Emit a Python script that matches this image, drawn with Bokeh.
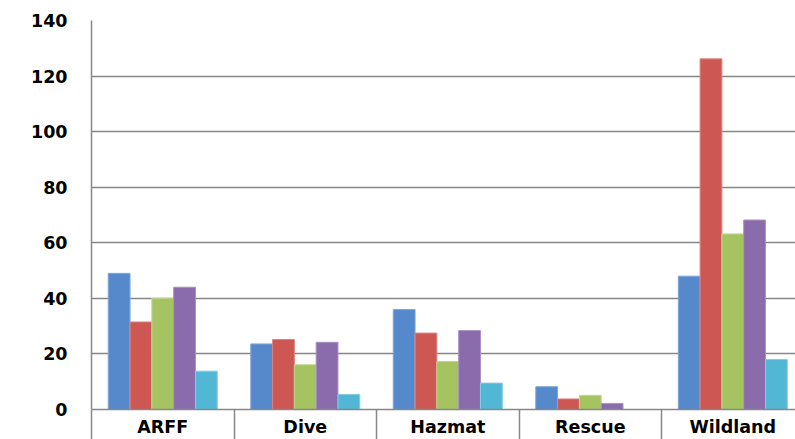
from bokeh.plotting import figure
from bokeh.models import FixedTicker, Range1d, ColumnDataSource
from bokeh.embed import file_html
from bokeh.resources import INLINE

categories = ["ARFF", "Dive", "Hazmat", "Rescue", "Wildland"]
series_1 = [49, 23.6, 36, 8.2, 48]
series_2 = [31.5, 25.2, 27.5, 3.8, 126.2]
series_3 = [40, 16.1, 17.3, 5.1, 63.2]
series_4 = [44, 24.2, 28.4, 2.2, 68.2]
series_5 = [13.8, 5.4, 9.5, 0, 18]
y_ticks = [0, 20, 40, 60, 80, 100, 120, 140]

series = [series_1, series_2, series_3, series_4, series_5]
colors = ["#5589CC", "#CD5753", "#A5C461", "#8A6CAC", "#52B7D4"]
edges = ["#7FA6DA", "#DC8583", "#C0D68F", "#A992C2", "#86CCE1"]

bar_w = 0.153
centers = [i + 0.5 for i in range(len(categories))]

p = figure(width=795, height=439, output_backend="svg", toolbar_location=None,
           x_range=Range1d(0, 4.94), y_range=Range1d(0, 140),
           min_border_left=91, min_border_right=0, min_border_top=20, min_border_bottom=30)
p.outline_line_color = None
p.background_fill_color = "white"
p.border_fill_color = "white"

for k, vals in enumerate(series):
    off = (k - 2) * bar_w
    src = ColumnDataSource(dict(x=[c + off for c in centers], top=vals))
    p.vbar(x="x", top="top", bottom=0, width=bar_w, source=src,
           fill_color=colors[k], line_color=edges[k], line_width=1)

FONT = "DejaVu Sans"
FSIZE = "17.5px"

# x axis
p.xaxis.ticker = FixedTicker(ticks=centers, minor_ticks=list(range(len(categories) + 1)))
p.xaxis.major_label_overrides = {c: n for c, n in zip(centers, categories)}
p.xaxis.major_tick_out = 0
p.xaxis.major_tick_in = 0
p.xaxis.minor_tick_out = 30
p.xaxis.minor_tick_in = 0
p.xaxis.minor_tick_line_color = "#878787"
p.xaxis.minor_tick_line_width = 1.5
p.xaxis.axis_line_color = "#878787"
p.xaxis.axis_line_width = 1.5
p.xaxis.major_label_standoff = -23
p.xaxis.major_label_text_font = FONT
p.xaxis.major_label_text_font_style = "bold"
p.xaxis.major_label_text_font_size = FSIZE
p.xaxis.major_label_text_color = "black"

# y axis
p.yaxis.ticker = FixedTicker(ticks=y_ticks)
p.yaxis.major_tick_out = 0
p.yaxis.major_tick_in = 0
p.yaxis.minor_tick_line_color = None
p.yaxis.axis_line_color = "#878787"
p.yaxis.axis_line_width = 1.5
p.yaxis.major_label_standoff = 24
p.yaxis.major_label_text_font = FONT
p.yaxis.major_label_text_font_style = "bold"
p.yaxis.major_label_text_font_size = FSIZE
p.yaxis.major_label_text_color = "black"

p.xgrid.grid_line_color = None
p.ygrid.ticker = FixedTicker(ticks=y_ticks)
p.ygrid.grid_line_color = "#878787"
p.ygrid.grid_line_width = 1.5

open("out.html", "w").write(file_html(p, INLINE))
